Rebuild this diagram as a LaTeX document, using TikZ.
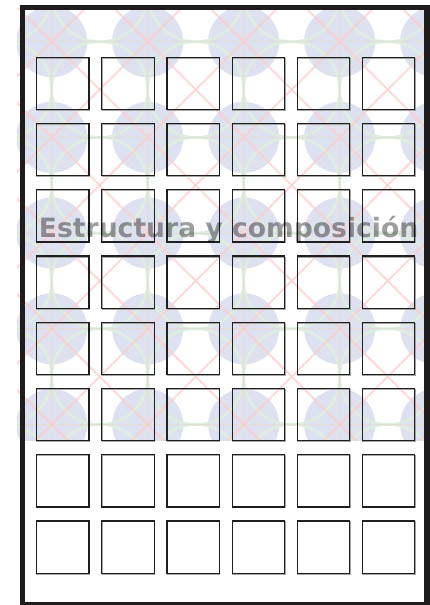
\documentclass[tikz,border=0pt]{standalone}
\usepackage{fontspec}
\newfontfamily\djv{DejaVu Sans}
\definecolor{blueC}{RGB}{222,225,240}
\definecolor{greenC}{RGB}{222,238,222}
\definecolor{gridC}{RGB}{228,222,215}
\definecolor{pinkC}{RGB}{255,205,205}
\definecolor{frameC}{RGB}{30,28,28}
\begin{document}
\begin{tikzpicture}[x=1pt,y=-1pt,
  cell/.style={draw=black!88, line width=1.2pt, minimum width=52.3pt, minimum height=52.3pt, inner sep=0pt, outer sep=0pt},
  cellshadow/.style={draw=black!35, line width=1pt},
  bluedot/.style={fill=blueC},
  greenring/.style={draw=greenC, line width=2.6pt},
  gridline/.style={draw=gridC, line width=0.8pt},
  pinkline/.style={draw=pinkC, line width=1.8pt, opacity=0.8},
  frame/.style={draw=frameC, line width=5.5pt},
  title/.style={font=\djv\bfseries\fontsize{26.6}{30}\selectfont, text=black, text opacity=0.38, anchor=base, inner sep=0pt}]
\useasboundingbox (0,0) rectangle (430,605);
\fill[white] (0,0) rectangle (430,605);
% background pattern
\begin{scope}
\clip (17,8) rectangle (430,440);
\foreach \i in {-1,...,4} \foreach \j in {-1,...,5} {
  \fill[bluedot] ({51.7+96*\i},{41.7+95.7*\j}) circle[radius=35.5pt];
}
\foreach \i in {-1,...,4} \foreach \j in {-1,...,5} {
  \draw[greenring] ({99.7+96*\i},{89.55+95.7*\j}) circle[radius=48pt];
}
\foreach \i in {-1,...,4} {
  \draw[gridline] ({51.7+96*\i},0) -- ({51.7+96*\i},450);
}
\foreach \j in {-1,...,5} {
  \draw[gridline] (0,{41.7+95.7*\j}) -- (440,{41.7+95.7*\j});
}
\foreach \i in {-1,...,4} \foreach \j in {-1,...,4} {
  \draw[pinkline] ({51.7+96*\i},{41.7+95.7*\j}) -- ({147.7+96*\i},{137.4+95.7*\j});
  \draw[pinkline] ({147.7+96*\i},{41.7+95.7*\j}) -- ({51.7+96*\i},{137.4+95.7*\j});
}
\end{scope}
% squares
\foreach \r in {0,...,7} \foreach \c in {0,...,5} {
  \draw[cellshadow] ({36.9+65.14*\c},{58.3+66.24*\r}) rectangle ({89.6+65.14*\c},{110.5+66.24*\r});
  \node[cell] (s\r\c) at ({62.85+65.14*\c},{83.4+66.24*\r}) {};
}
% title
\node[title] (ttl) at (228.6,237.3) {Estructura y composición};
% frame
\draw[frame] (22.5,7.7) rectangle (427.2,604.5);
\end{tikzpicture}
\end{document}
